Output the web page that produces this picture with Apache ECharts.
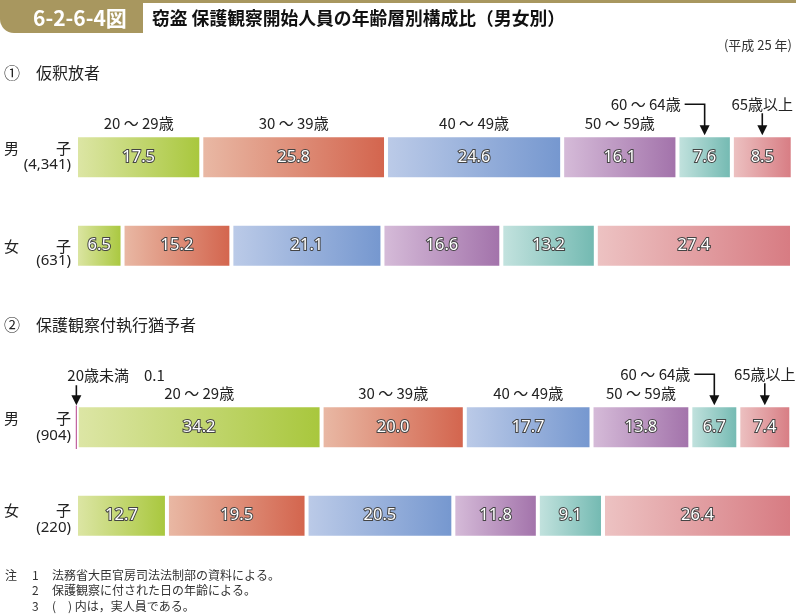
<!DOCTYPE html>
<html><head><meta charset="utf-8">
<script src="https://cdn.jsdelivr.net/npm/echarts@6/dist/echarts.min.js"></script>
<style>html,body{margin:0;padding:0;background:#fff}#c{width:796px;height:616px}</style>
</head><body><div id="c"></div>
<script>
// ---- data ----
const ageGroups = ['20歳未満', '20 ～ 29歳', '30 ～ 39歳', '40 ～ 49歳', '50 ～ 59歳', '60 ～ 64歳', '65歳以上'];
const rowNames = ['男子', '女子'];
const paroleMale = [null, 17.5, 25.8, 24.6, 16.1, 7.6, 8.5];
const paroleFemale = [null, 6.5, 15.2, 21.1, 16.6, 13.2, 27.4];
const paroleCounts = ['4,341', '631'];
const probationMale = [0.1, 34.2, 20.0, 17.7, 13.8, 6.7, 7.4];
const probationFemale = [null, 12.7, 19.5, 20.5, 11.8, 9.1, 26.4];
const probationCounts = ['904', '220'];
const panelTitles = ['①　仮釈放者', '②　保護観察付執行猶予者'];
const notes = ['法務省大臣官房司法法制部の資料による。', '保護観察に付された日の年齢による。', '(　) 内は，実人員である。'];

// ---- style ----
const FONT = '"Noto Sans CJK JP", "Noto Sans", sans-serif';
const GOLD = '#a8975f';
const grads = [
  ['#c0609e', '#c0609e'],
  ['#dde6a6', '#a8c73c'],
  ['#e9b9a5', '#d3644d'],
  ['#bccbe8', '#7597cf'],
  ['#d6bcd9', '#a272aa'],
  ['#c4e3df', '#72b9b1'],
  ['#edc3c3', '#d77b82']
];
const panels = [
  { male: paroleMale, female: paroleFemale, counts: paroleCounts,
    ann: { 1: 'above', 2: 'above', 3: 'above', 4: 'above', 5: 'elbow', 6: 'down' },
    rowOff: [[-9, 7], [1, 15]], titleY: 73 },
  { male: probationMale, female: probationFemale, counts: probationCounts,
    ann: { 0: 'downLeft', 1: 'above', 2: 'above', 3: 'above', 4: 'above', 5: 'elbow', 6: 'down' },
    rowOff: [[-9, 8], [-5, 12]], titleY: 325 }
];

const chart = echarts.init(document.getElementById('c'), null, { renderer: 'canvas' });
const series = [];
panels.forEach((p, pi) => {
  ageGroups.forEach((g, i) => {
    const tiny = i === 0;
    series.push({
      type: 'bar', name: g, xAxisIndex: pi, yAxisIndex: pi, stack: 'p' + pi,
      barWidth: 44, z: tiny ? 5 : 2,
      data: [p.male[i], p.female[i]],
      itemStyle: {
        color: new echarts.graphic.LinearGradient(0, 0, 1, 0, [
          { offset: 0, color: grads[i][0] }, { offset: 1, color: grads[i][1] }]),
        borderColor: tiny ? grads[i][0] : '#fff',
        borderWidth: tiny ? 1.2 : 2
      },
      label: {
        show: !tiny, position: 'inside',
        formatter: (d) => (d.value == null ? '' : Number(d.value).toFixed(1)),
        color: '#fff', fontSize: 16.5, fontFamily: '"Noto Sans", sans-serif', fontWeight: 'normal',
        textBorderColor: '#444', textBorderWidth: 2
      },
      emphasis: { disabled: true }
    });
  });
});

chart.setOption({
  backgroundColor: '#fff',
  animation: false,
  grid: [
    { left: 76, right: 4, top: 113, height: 177 },
    { left: 76, right: 4, top: 383, height: 177 }
  ],
  xAxis: [0, 1].map(i => ({ gridIndex: i, type: 'value', min: 0, max: 100, show: false })),
  yAxis: [0, 1].map(i => ({ gridIndex: i, type: 'category', data: rowNames, inverse: true, show: false })),
  series: series
});

// ---- annotations placed through the axes ----
const g = [];
const txt = (x, y, text, size, align, extra) => g.push(Object.assign({
  type: 'text', x: x, y: y, silent: true,
  style: Object.assign({ text: text, fontSize: size, fontFamily: FONT, fill: '#222',
    align: align || 'left', verticalAlign: 'middle' }, extra || {})
}));
const line = (pts) => g.push({ type: 'polyline', silent: true, shape: { points: pts },
  style: { stroke: '#111', lineWidth: 1.6, fill: null } });
const head = (x, y) => g.push({ type: 'polygon', silent: true,
  shape: { points: [[x - 5, y - 10], [x + 5, y - 10], [x, y]] }, style: { fill: '#111' } });

// header
g.push({ type: 'rect', shape: { x: 0, y: 0, width: 143, height: 33, r: [0, 0, 0, 14] }, style: { fill: GOLD } });
g.push({ type: 'rect', shape: { x: 143, y: 0, width: 653, height: 3 }, style: { fill: GOLD } });
txt(33, 18, '6-2-6-4図', 21, 'left', { fill: '#fff', fontWeight: 'bold' });
txt(152, 18, '窃盗 保護観察開始人員の年齢層別構成比（男女別）', 17.8, 'left', { fontWeight: 'bold', fill: '#111' });
txt(792, 45, '(平成 25 年)', 13, 'right', { fill: '#333' });

panels.forEach((p, pi) => {
  txt(4, p.titleY, panelTitles[pi], 16, 'left', { fill: '#222' });
  // row labels
  [0, 1].forEach(r => {
    const py = chart.convertToPixel({ gridIndex: pi }, [0, r])[1];
    const off = p.rowOff[r];
    txt(4, py + off[0], rowNames[r][0], 15, 'left');
    txt(71, py + off[0], rowNames[r][1], 15, 'right');
    txt(71, py + off[1], '(' + p.counts[r] + ')', 15, 'right', { fontFamily: '"Noto Sans", sans-serif' });
  });
  // category annotations above male bar
  let cum = 0;
  const py0 = chart.convertToPixel({ gridIndex: pi }, [0, 0])[1];
  const top = py0 - 21;
  p.male.forEach((v, i) => {
    if (v == null) return;
    const cx = chart.convertToPixel({ gridIndex: pi }, [cum + v / 2, 0])[0];
    cum += v;
    const mode = p.ann[i];
    if (mode === 'above') {
      txt(cx, top - 13, ageGroups[i], 15, 'center');
    } else if (mode === 'elbow') {
      txt(cx - 24, top - 32, ageGroups[i], 15, 'right');
      line([[cx - 20, top - 32], [cx, top - 32], [cx, top - 9]]);
      head(cx, top - 1);
    } else if (mode === 'down') {
      txt(cx, top - 32, ageGroups[i], 15, 'center');
      line([[cx, top - 23], [cx, top - 9]]);
      head(cx, top - 1);
    } else if (mode === 'downLeft') {
      txt(cx - 9, top - 31, ageGroups[i] + '　' + v.toFixed(1), 15, 'left');
      line([[cx, top - 21], [cx, top - 9]]);
      head(cx, top - 1);
    }
  });
});

// notes
txt(5, 575, '注', 12, 'left', { fill: '#333' });
notes.forEach((n, i) => {
  txt(32, 575 + i * 15.5, String(i + 1), 12, 'left', { fill: '#333' });
  txt(52, 575 + i * 15.5, n, 12, 'left', { fill: '#333' });
});

chart.setOption({ graphic: g });
</script></body></html>
